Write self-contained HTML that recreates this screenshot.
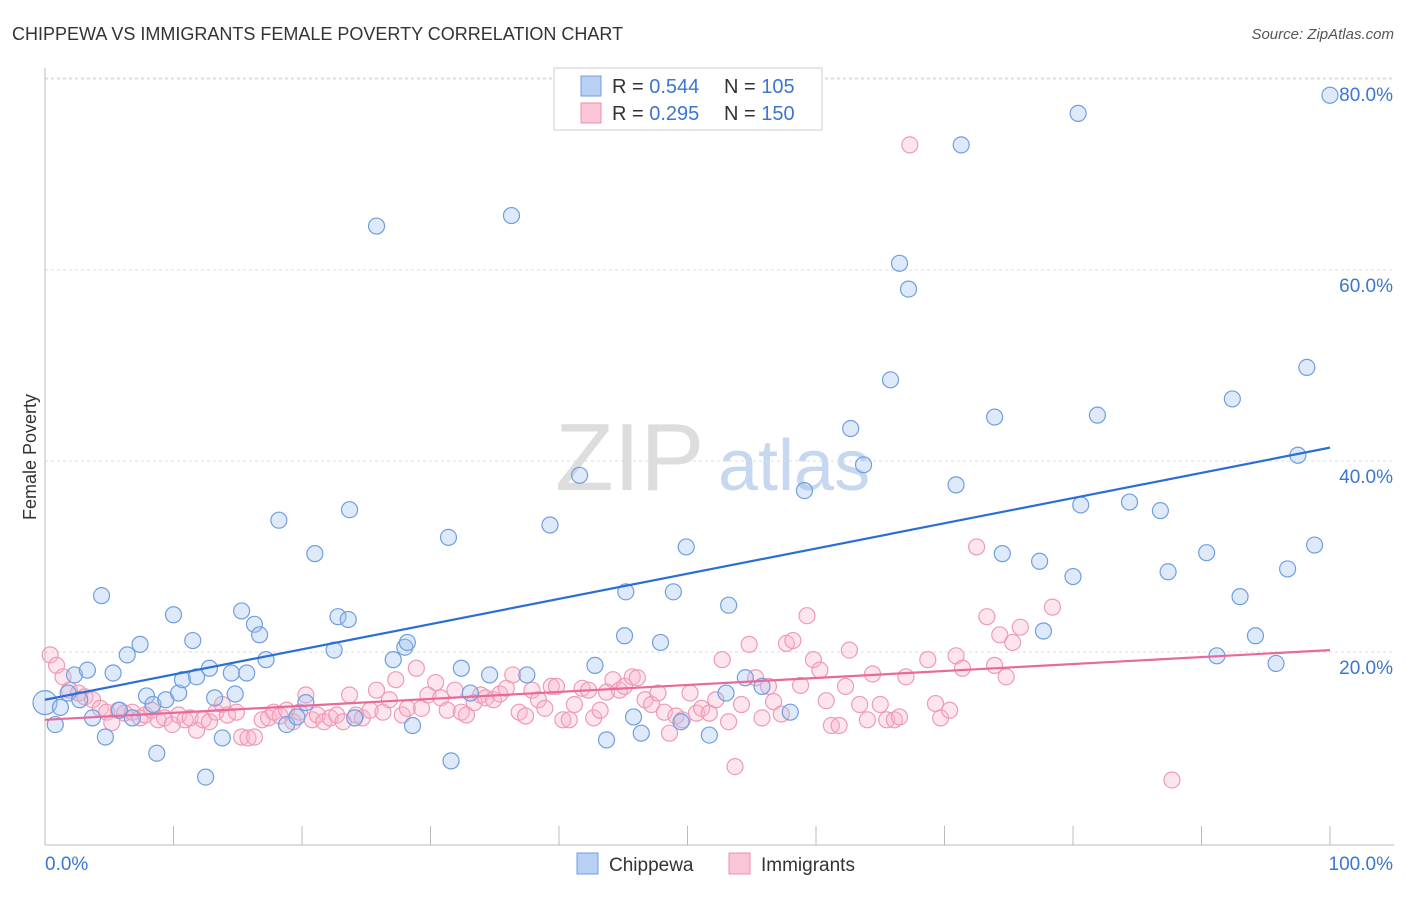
<!DOCTYPE html>
<html><head><meta charset="utf-8"><style>
body{margin:0;background:#fff;font-family:"Liberation Sans",sans-serif;}
svg text{font-family:"Liberation Sans",sans-serif;}
</style></head><body>
<svg id="chart" width="1406" height="892">
<text x="12" y="40" font-size="18" fill="#333">CHIPPEWA VS IMMIGRANTS FEMALE POVERTY CORRELATION CHART</text>
<text x="1394" y="39" font-size="15" fill="#555" font-style="italic" text-anchor="end">Source: ZipAtlas.com</text>
<text x="36" y="457" font-size="18" fill="#333" transform="rotate(-90 36 457)" text-anchor="middle">Female Poverty</text>
<g><text x="555" y="490" font-size="96" fill="#ddd" font-family="Liberation Serif">ZIP</text><text x="718" y="490" font-size="72" fill="#c5d8ef">atlas</text></g>
<g id="grid"></g><g id="axes"></g><g id="pts"></g><g id="lines"></g>
<g>
<rect x="554" y="68" width="268" height="62" fill="#fff" stroke="#ccc"/>
<rect x="581" y="76" width="20" height="20" fill="#b7d0f3" stroke="#6f9ee0"/>
<rect x="581" y="103" width="20" height="20" fill="#fac6d6" stroke="#ee8fae"/>
<text x="612" y="93" font-size="20" fill="#333">R = <tspan fill="#3b76d2">0.544</tspan></text>
<text x="724" y="93" font-size="20" fill="#333">N = <tspan fill="#3b76d2">105</tspan></text>
<text x="612" y="120" font-size="20" fill="#333">R = <tspan fill="#3b76d2">0.295</tspan></text>
<text x="724" y="120" font-size="20" fill="#333">N = <tspan fill="#3b76d2">150</tspan></text>
</g>
<g>
<rect x="577" y="853" width="21" height="21" fill="#b7d0f3" stroke="#6f9ee0"/>
<text x="609" y="871" font-size="19" fill="#333">Chippewa</text>
<rect x="729" y="853" width="21" height="21" fill="#fac6d6" stroke="#ee8fae"/>
<text x="761" y="871" font-size="19" fill="#333">Immigrants</text>
</g>
</svg>
<script>
const yTicks=[20,40,60,80];
const yTickLabels=["20.0%","40.0%","60.0%","80.0%"];
const xTickLabels=["0.0%","100.0%"];
const blueTrend=[15.0,41.4];
const pinkTrend=[12.9,20.2];
const bluePx=[[45,703],[55,725],[60,707],[68,693],[75,675],[88,670],[80,700],[93,718],[102,596],[106,737],[113,673],[120,710],[127,655],[133,718],[140,644],[147,696],[153,705],[157,753],[166,700],[173,615],[178,693],[182,680],[193,641],[197,677],[206,777],[210,668],[215,698],[222,738],[231,673],[235,694],[241,611],[247,673],[254,624],[260,635],[266,660],[279,520],[286,725],[297,717],[306,703],[315,554],[334,650],[338,617],[348,620],[349,510],[355,718],[377,226],[393,660],[405,647],[407,642],[413,726],[448,537],[451,761],[461,668],[470,693],[489,675],[511,216],[527,675],[550,525],[580,475],[595,665],[607,740],[624,636],[626,592],[633,717],[641,733],[661,642],[674,592],[681,722],[686,547],[709,735],[726,693],[729,605],[745,678],[762,686],[790,712],[804,491],[851,429],[864,465],[891,380],[900,263],[908,289],[956,485],[961,145],[994,417],[1002,554],[1040,561],[1043,631],[1073,577],[1078,113],[1081,505],[1097,415],[1129,502],[1160,511],[1168,572],[1206,553],[1217,656],[1232,399],[1240,597],[1256,636],[1276,663],[1288,569],[1298,455],[1307,367],[1315,545],[1330,95]];
const pinkPx=[[50,655],[57,665],[63,677],[70,690],[78,693],[85,697],[92,700],[100,708],[107,712],[112,723],[118,710],[125,713],[133,712],[140,718],[145,715],[152,710],[158,720],[165,718],[172,725],[178,715],[185,720],[190,718],[196,730],[203,720],[210,722],[216,712],[222,705],[228,715],[236,712],[241,737],[248,738],[255,737],[262,720],[268,718],[274,712],[280,716],[286,710],[293,722],[300,712],[306,695],[312,720],[318,715],[324,722],[330,718],[337,715],[343,722],[350,695],[356,715],[363,718],[370,710],[376,690],[383,712],[389,700],[396,680],[402,715],[408,708],[416,668],[422,708],[428,695],[435,683],[441,698],[447,710],[455,690],[461,712],[467,715],[474,703],[480,695],[486,698],[493,700],[500,694],[506,688],[513,675],[519,712],[525,716],[532,690],[538,700],[545,708],[551,686],[557,686],[563,720],[569,720],[575,705],[582,688],[588,690],[594,718],[600,710],[607,692],[613,680],[619,690],[625,686],[632,677],[638,678],[645,700],[651,705],[658,693],[664,712],[670,733],[676,716],[683,720],[690,693],[696,713],[702,708],[709,713],[716,700],[722,660],[729,722],[735,767],[742,705],[749,644],[755,678],[762,718],[768,686],[774,702],[781,714],[787,643],[793,641],[800,685],[807,616],[813,660],[820,670],[826,701],[832,726],[839,726],[845,686],[850,650],[860,705],[867,720],[873,674],[880,705],[887,720],[894,720],[900,717],[906,677],[910,145],[928,660],[935,704],[941,718],[950,710],[956,656],[962,668],[977,547],[987,617],[995,665],[1000,635],[1006,677],[1012,642],[1020,627],[1053,607],[1172,780]];
const blueX=bluePx.map(p=>+((p[0]-45)/12.85).toFixed(1));
const blueY=bluePx.map(p=>+((843-p[1])/9.55).toFixed(1));
const pinkX=pinkPx.map(p=>+((p[0]-45)/12.85).toFixed(1));
const pinkY=pinkPx.map(p=>+((843-p[1])/9.55).toFixed(1));
const NS="http://www.w3.org/2000/svg";
const X=v=>45+v*12.85, Y=v=>843-v*9.55;
function mk(tag,attrs,parent){const e=document.createElementNS(NS,tag);for(const k in attrs)e.setAttribute(k,attrs[k]);document.getElementById(parent).appendChild(e);return e;}
const topLine=mk('line',{x1:45,x2:1394,y1:Y(80)-1,y2:Y(80)-1,stroke:'#ddd','stroke-dasharray':'3,3'},'grid');


yTicks.forEach((t,i)=>{
 const g=mk('line',{x1:45,x2:1394,y1:Y(t),y2:Y(t),stroke:'#ddd','stroke-dasharray':'3,3'},'grid');
 
 
 const l=mk('text',{x:1393,y:Y(t)+22,'font-size':19,fill:'#3b76d2','text-anchor':'end'},'grid');
 l.textContent=yTickLabels[i];
 
 
});
const ax=mk('line',{x1:45,x2:1394,y1:845,y2:845,stroke:'#bbb'},'axes');


const ay=mk('line',{x1:45,x2:45,y1:68,y2:845,stroke:'#bbb'},'axes');


for(let i=0;i<=10;i++){const t=mk('line',{x1:X(i*10),x2:X(i*10),y1:826,y2:845,stroke:'#bbb'},'axes');
 
 }
const xl0=mk('text',{x:45,y:870,'font-size':19,fill:'#3b76d2'},'axes');xl0.textContent=xTickLabels[0];


const xl1=mk('text',{x:1393,y:870,'font-size':19,fill:'#3b76d2','text-anchor':'end'},'axes');xl1.textContent=xTickLabels[1];


pinkX.forEach((x,i)=>{const c=mk('circle',{cx:X(x),cy:Y(pinkY[i]),r:8,fill:'rgba(248,180,202,0.35)',stroke:'#ef9ab6','stroke-width':1.2},'pts');
 
 });
blueX.forEach((x,i)=>{const c=mk('circle',{cx:X(x),cy:Y(blueY[i]),r:i==0?12:8,fill:'rgba(160,196,240,0.35)',stroke:'#6f9ee0','stroke-width':1.2},'pts');
 
 });
const bl=mk('line',{x1:X(0),x2:X(100),y1:Y(blueTrend[0]),y2:Y(blueTrend[1]),stroke:'#2b6fd6','stroke-width':2.2},'lines');


const pl=mk('line',{x1:X(0),x2:X(100),y1:Y(pinkTrend[0]),y2:Y(pinkTrend[1]),stroke:'#e8699a','stroke-width':2.2},'lines');


</script>
</body></html>
